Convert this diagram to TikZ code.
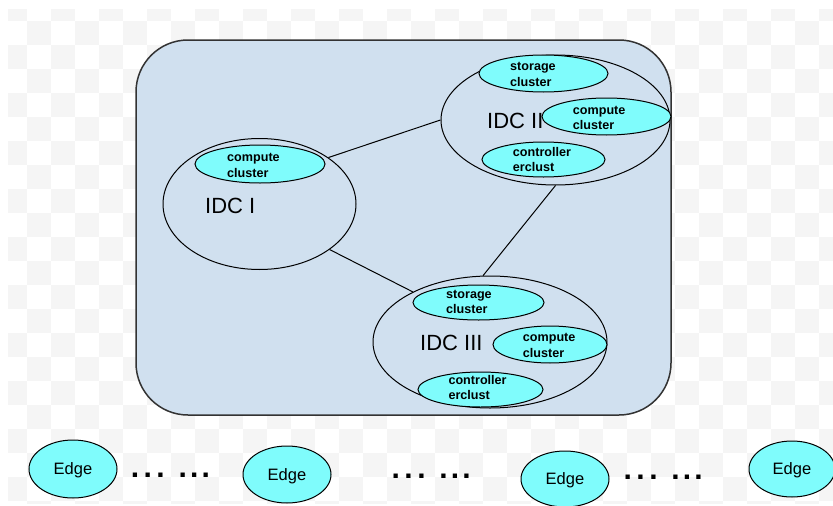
\documentclass[tikz,border=0pt]{standalone}
\usepackage{fontspec}
\setmainfont{Liberation Sans}
\usetikzlibrary{shapes.geometric}
\definecolor{panelblue}{RGB}{208,224,239}
\definecolor{clucyan}{RGB}{127,252,252}
\definecolor{chk}{RGB}{245,245,245}
\definecolor{framegray}{RGB}{51,51,51}
\newcommand{\dotrow}{\makebox[12.8pt][l]{.}\makebox[12.8pt][l]{.}\makebox[22pt][l]{.}\makebox[11.5pt][l]{.}\makebox[11.5pt][l]{.}.}
\begin{document}
\begin{tikzpicture}[x=1pt,y=-1pt,
  idc/.style={ellipse, draw=black, line width=1pt, fill=panelblue, inner sep=0pt},
  cluell/.style={ellipse, draw=black, line width=1pt, fill=clucyan, inner sep=0pt},
  clutext/.style={anchor=base west, inner sep=0pt, font=\fontsize{12.6}{15.5}\selectfont\bfseries},
  idctext/.style={anchor=base west, inner sep=0pt, font=\fontsize{22}{26}\selectfont},
  edgenode/.style={ellipse, draw=black, line width=1pt, fill=clucyan, inner sep=0pt, text depth=0pt, font=\fontsize{16.5}{20}\selectfont},
  dotstext/.style={anchor=base west, inner sep=0pt, font=\fontsize{30}{34}\selectfont\bfseries},
  link/.style={draw=black, line width=1pt}
]
\useasboundingbox (0,0) rectangle (833,506);
\fill[white] (0,0) rectangle (833,506);
\begin{scope}
\clip (8,9) rectangle (833,503);
\foreach \i in {0,...,34}{\foreach \j in {0,...,21}{
  \pgfmathtruncatemacro\chkp{mod(\i+\j,2)}
  \ifnum\chkp=0 \fill[chk] ({3+24*\i},{-3+24*\j}) rectangle ++(24,24); \fi
}}
\end{scope}

% panel
\node (panel) [draw=framegray, line width=1.5pt, fill=panelblue, rounded corners=52pt,
  minimum width=535pt, minimum height=375pt, inner sep=0pt] at (403.5,227.5) {};

% IDC ellipses
\node[idc, minimum width=193pt, minimum height=131pt] (idc1) at (259.5,204) {};
\node[idc, minimum width=229pt, minimum height=130pt] (idc2) at (555.5,120) {};
\node[idc, minimum width=234pt, minimum height=132pt] (idc3) at (490,342) {};

% links
\draw[link] (idc1.34) -- (idc2.180);
\draw[link] (idc1.-33) -- (idc3.147);
\draw[link] (idc2.-90) -- (idc3.96);

% IDC I
\node[idctext] (idc1t) at (205,213) {IDC I};
\node[cluell, minimum width=130pt, minimum height=38pt] (c1) at (260,164) {};
\node[clutext] (c1t) at (227,161.5) {\begin{tabular}[t]{@{}l@{}}compute\\cluster\end{tabular}};

% IDC II
\node[idctext] (idc2t) at (487,128) {IDC II};
\node[cluell, minimum width=129pt, minimum height=37pt] (s2) at (543.5,73.5) {};
\node[clutext] (s2t) at (510,70.5) {\begin{tabular}[t]{@{}l@{}}storage\\cluster\end{tabular}};
\node[cluell, minimum width=129pt, minimum height=37pt] (c2) at (606.5,116.5) {};
\node[clutext] (c2t) at (572.7,114) {\begin{tabular}[t]{@{}l@{}}compute\\cluster\end{tabular}};
\node[cluell, minimum width=123pt, minimum height=35pt] (k2) at (543.5,159.5) {};
\node[clutext] (k2t) at (512.7,156) {\begin{tabular}[t]{@{}l@{}}controller\\erclust\end{tabular}};

% IDC III
\node[idctext] (idc3t) at (420,350) {IDC III};
\node[cluell, minimum width=131pt, minimum height=35pt] (s3) at (478.5,302.5) {};
\node[clutext] (s3t) at (446,298.3) {\begin{tabular}[t]{@{}l@{}}storage\\cluster\end{tabular}};
\node[cluell, minimum width=114pt, minimum height=37pt] (c3) at (550,344.5) {};
\node[clutext] (c3t) at (522.7,341.7) {\begin{tabular}[t]{@{}l@{}}compute\\cluster\end{tabular}};
\node[cluell, minimum width=125pt, minimum height=35pt] (k3) at (480.5,389.5) {};
\node[clutext] (k3t) at (448.3,384.3) {\begin{tabular}[t]{@{}l@{}}controller\\erclust\end{tabular}};

% Edge row
\node[edgenode, minimum width=88pt, minimum height=58pt] (e1) at (73,469) {Edge};
\node[edgenode, minimum width=88pt, minimum height=57pt] (e2) at (287,474.5) {Edge};
\node[edgenode, minimum width=88pt, minimum height=56pt] (e3) at (565,479) {Edge};
\node[edgenode, minimum width=86pt, minimum height=56pt] (e4) at (792,469) {Edge};

\node[dotstext] (d1) at (130.7,477) {\dotrow};
\node[dotstext] (d2) at (391.5,478) {\dotrow};
\node[dotstext] (d3) at (623.5,479) {\dotrow};
\end{tikzpicture}
\end{document}
